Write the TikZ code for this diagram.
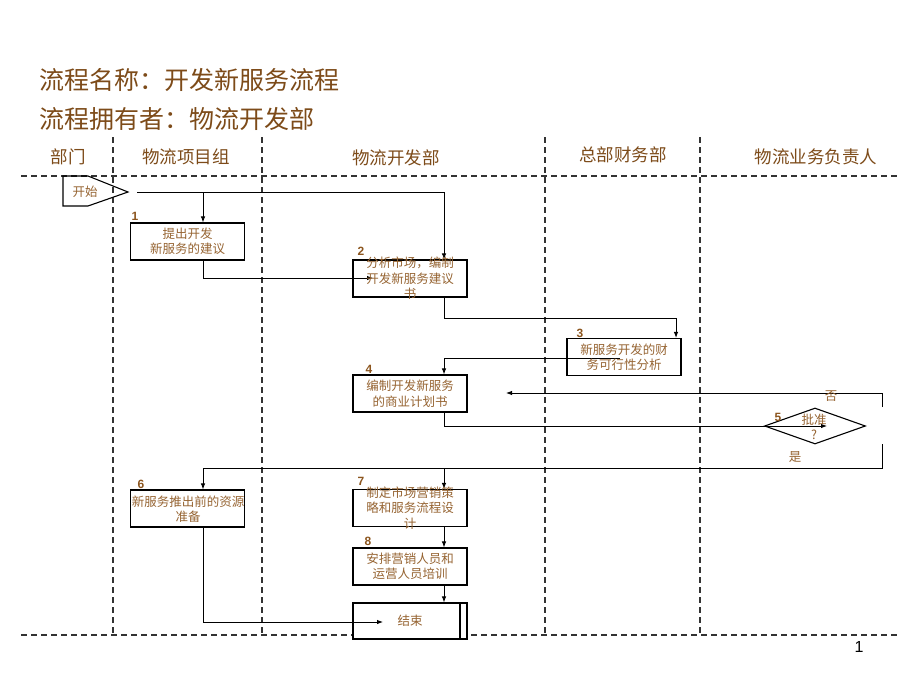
\documentclass[tikz,border=0pt]{standalone}
\usepackage{fontspec}
\newfontfamily\cjk{Noto Sans CJK SC}
\newfontfamily\lsans{Liberation Sans}
\usetikzlibrary{arrows.meta,shapes.geometric,calc}
\definecolor{ttl}{RGB}{125,75,25}
\definecolor{lbl}{RGB}{150,100,50}
\definecolor{numc}{RGB}{140,85,30}
\begin{document}
\begin{tikzpicture}[x=1pt,y=-1pt,
  box/.style={draw, fill=white, line width=1.1pt, minimum width=114pt, minimum height=37pt, inner sep=0pt},
  txt/.style={text=lbl, font=\cjk\fontsize{12.5}{15.5}\selectfont, align=center, inner sep=0pt},
  hdr/.style={text=ttl, font=\cjk\fontsize{17.5}{20}\selectfont, inner sep=0pt},
  ttlt/.style={text=ttl, font=\cjk\fontsize{25}{28}\selectfont, anchor=west, inner sep=0pt},
  num/.style={text=numc, font=\lsans\bfseries\fontsize{12}{12}\selectfont, inner sep=0pt},
  lane/.style={dash pattern=on 6pt off 4pt, line width=1.3pt, draw=black!80},
  arr/.style={-{Latex[length=6pt,width=4.5pt]}, line width=0.9pt},
  ln/.style={line width=0.9pt}]
\useasboundingbox (0,0) rectangle (920,690);
\fill[white] (0,0) rectangle (920,690);

% titles
\node[ttlt] (t1) at (39,80) {流程名称：开发新服务流程};
\node[ttlt] (t2) at (39,119) {流程拥有者：物流开发部};

% lane lines
\draw[lane] (21,176) -- (899,176);
\draw[lane] (21,635) -- (899,635);
\foreach \x in {113,262,545,700} \draw[lane] (\x,137) -- (\x,636);

% headers
\node[hdr] (h0) at (68,157) {部门};
\node[hdr] (h1) at (186,157) {物流项目组};
\node[hdr] (h2) at (396,158) {物流开发部};
\node[hdr] (h3) at (623,155) {总部财务部};
\node[hdr] (h4) at (816,157) {物流业务负责人};

% start
\draw[line width=1.1pt] (63,176) -- (88,176) -- (128,192) -- (88,206) -- (63,206) -- cycle;
\node[txt] (start) at (85,192) {开始};
\coordinate (s0) at (137,192);

% boxes
\node[box] (b1) at (187.5,241.5) {};
\node[box] (b2) at (410,278.5) {};
\node[box] (b3) at (624,357) {};
\node[box] (b4) at (410,393.5) {};
\node[draw, fill=white, line width=1.1pt, diamond, aspect=2.8, minimum width=101pt, minimum height=36pt, inner sep=0pt] (d5) at (815,426) {};
\node[box] (b6) at (187.5,508.5) {};
\node[box] (b7) at (410,508) {};
\node[box] (b8) at (410,566.5) {};
\node[box, minimum height=36pt] (e) at (410,621) {};
\draw[line width=1.1pt] (460,603) -- (460,639);

% connectors
\draw[ln] (s0) -- (444,192);
\draw[arr] (444,192) -- ([xshift=34pt]b2.north);
\draw[arr] (203,192) -- ([xshift=15.5pt]b1.north);
\draw[arr] ([xshift=15.5pt]b1.south) -- (203,278) -- (373,278);
\draw[arr] ([xshift=34pt]b2.south) -- (444,318) -- (676,318) -- ([xshift=52pt]b3.north);
\draw[arr] (620,358) -- (444,358) -- ([xshift=34pt]b4.north);
\draw[arr] ([xshift=34pt]b4.south) -- (444,426) -- (827,426);
\draw[arr] (882,407) -- (882,393) -- (506,393);
\draw[ln] (882,444) -- (882,468) -- (203,468);
\draw[arr] (203,468) -- ([xshift=15.5pt]b6.north);
\draw[arr] (444,468) -- ([xshift=34pt]b7.north);
\draw[arr] ([xshift=34pt]b7.south) -- ([xshift=34pt]b8.north);
\draw[arr] ([xshift=34pt]b8.south) -- ([xshift=34pt]e.north);
\draw[arr] ([xshift=15.5pt]b6.south) -- (203,622) -- (383,622);

% texts
\node[txt] (x1) at (b1) {提出开发\\新服务的建议};
\node[txt] (x2) at (b2) {分析市场，编制\\开发新服务建议\\书};
\node[txt] (x3) at (b3) {新服务开发的财\\务可行性分析};
\node[txt] (x4) at (b4) {编制开发新服务\\的商业计划书};
\node[txt] (x5) at (814,427) {批准\\?};
\node[txt] (x6) at (188,509) {新服务推出前的资源\\准备};
\node[txt] (x7) at (b7) {制定市场营销策\\略和服务流程设\\计};
\node[txt] (x8) at (b8) {安排营销人员和\\运营人员培训};
\node[txt] (xe) at (410,621) {结束};
\node[txt] (no) at (831,396) {否};
\node[txt] (yes) at (795,457) {是};

% numbers
\node[num] (n1) at (135,216) {1};
\node[num] (n2) at (361,251) {2};
\node[num] (n3) at (580,333) {3};
\node[num] (n4) at (369,369) {4};
\node[num] (n5) at (778,417) {5};
\node[num] (n6) at (141,484) {6};
\node[num] (n7) at (361,481) {7};
\node[num] (n8) at (368,541) {8};

% page number
\node[font=\lsans\fontsize{16}{16}\selectfont, inner sep=0pt] (pg) at (859,647) {1};
\end{tikzpicture}
\end{document}
